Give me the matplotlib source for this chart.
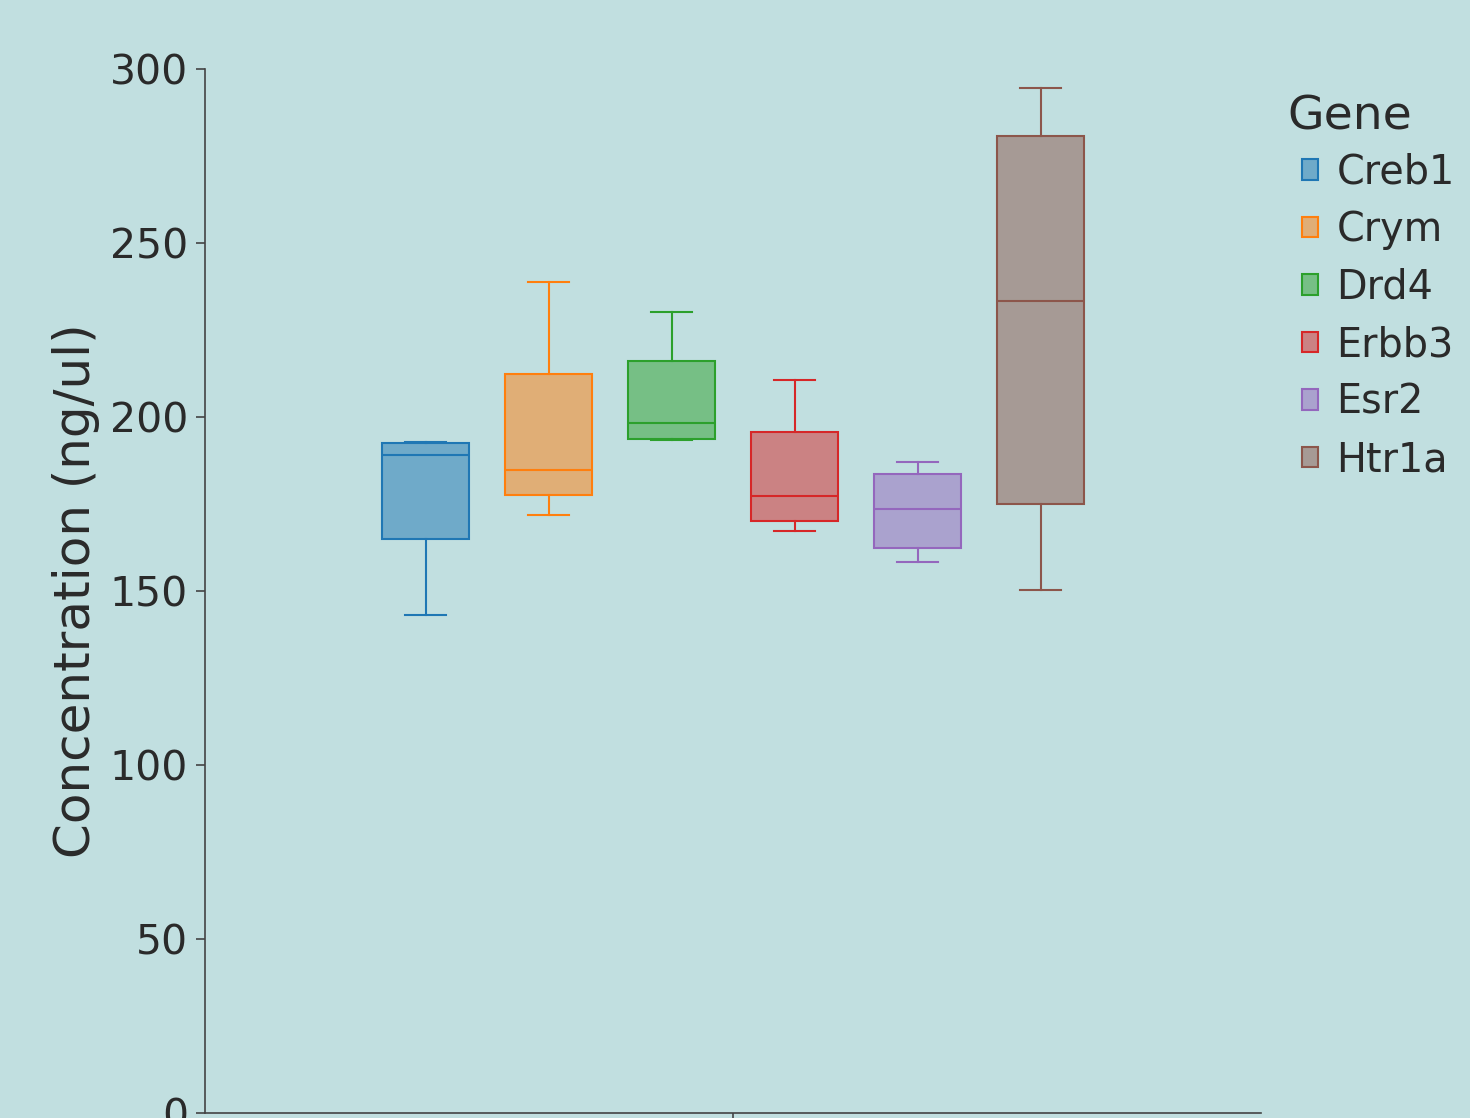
import matplotlib
matplotlib.use("Agg")
import matplotlib.pyplot as plt
from matplotlib.patches import Patch
from matplotlib.colors import to_rgba

genes = ["Creb1", "Crym", "Drd4", "Erbb3", "Esr2", "Htr1a"]
colors = ["#1f77b4", "#ff7f0e", "#2ca02c", "#d62728", "#9467bd", "#8c564b"]
whislo = [143.1, 171.7, 193.3, 167.1, 158.4, 150.2]
q1 = [164.9, 177.6, 193.7, 170.2, 162.3, 175.0]
med = [189.2, 184.8, 198.2, 177.2, 173.5, 233.3]
q3 = [192.4, 212.3, 216.1, 195.7, 183.7, 280.7]
whishi = [192.9, 238.9, 230.3, 210.6, 187.1, 294.4]
yticks = [0, 50, 100, 150, 200, 250, 300]
legend_title = "Gene"

bg = "#c1dfe0"
fig = plt.figure(figsize=(14.7, 11.18), dpi=100, facecolor=bg)
ax = fig.add_axes([205/1470, 5/1118, 1056/1470, 1044/1118], facecolor=bg)

lw = 1.5
for i, g in enumerate(genes):
    stats = [dict(whislo=whislo[i], q1=q1[i], med=med[i], q3=q3[i], whishi=whishi[i], label=g)]
    c = colors[i]
    ax.bxp(stats, positions=[i - 2.5], widths=0.70, showfliers=False, patch_artist=True,
           boxprops=dict(facecolor=to_rgba(c, 0.5), edgecolor=c, linewidth=lw),
           medianprops=dict(color=c, linewidth=lw),
           whiskerprops=dict(color=c, linewidth=lw),
           capprops=dict(color=c, linewidth=lw),
           capwidths=0.34, manage_ticks=False)

ax.set_xlim(-528/123, 528/123)
ax.set_ylim(0, 300)
ax.set_yticks(yticks)
ax.set_yticklabels([str(t) for t in yticks])
ax.set_xticks([0])
ax.set_xticklabels([""])
for s in ["top", "right"]:
    ax.spines[s].set_visible(False)
for s in ["left", "bottom"]:
    ax.spines[s].set_color("#444444")
    ax.spines[s].set_linewidth(1.2)
ax.tick_params(axis="both", colors="#444444", length=6.5, width=1.2, labelsize=29.5,
               labelcolor="#2a2a2a", pad=5.8)
ax.set_ylabel("Concentration (ng/ul)", fontsize=36, color="#2a2a2a", labelpad=7)

handles = [Patch(facecolor=to_rgba(c, 0.5), edgecolor=c, linewidth=1.5) for c in colors]
leg = fig.legend(handles, genes, loc="upper left",
                 bbox_to_anchor=(1274/1470, 1 - 125/1118), frameon=False,
                 fontsize=28.6, handlelength=0.42, handleheight=0.42,
                 handletextpad=0.45, labelspacing=0.44, borderpad=0.2)
for t in leg.get_texts():
    t.set_color("#2a2a2a")
fig.text(1287/1470, 1 - 117/1118, legend_title, fontsize=34, color="#2a2a2a",
         ha="left", va="center")

fig.savefig("out.png", dpi=100, facecolor=bg)
